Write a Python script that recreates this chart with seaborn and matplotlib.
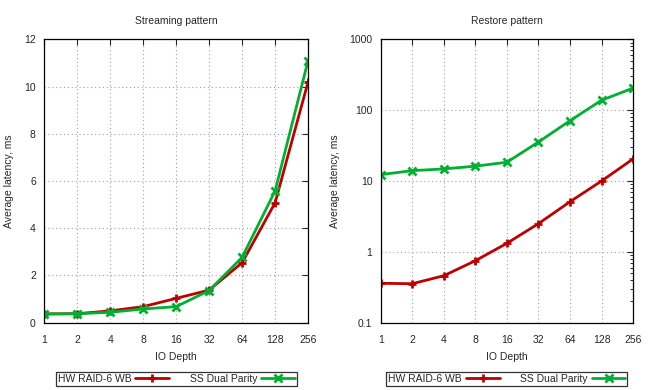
import matplotlib
matplotlib.use("Agg")
import matplotlib.pyplot as plt
import seaborn as sns
import pandas as pd
import numpy as np
from matplotlib.ticker import LogLocator, NullFormatter, FixedLocator

io_depth = ["1", "2", "4", "8", "16", "32", "64", "128", "256"]
stream_hw = [0.37, 0.38, 0.50, 0.68, 1.03, 1.38, 2.54, 5.08, 10.2]
stream_ss = [0.37, 0.38, 0.44, 0.58, 0.68, 1.36, 2.77, 5.58, 11.1]
restore_hw = [0.36, 0.355, 0.46, 0.75, 1.32, 2.5, 5.1, 10.0, 20.5]
restore_ss = [12.3, 14.0, 14.8, 16.2, 18.4, 35.5, 71, 138, 205]
series_names = ["HW RAID-6 WB", "SS Dual Parity"]

sns.set_style("white")
plt.rcParams["font.family"] = ["Liberation Sans", "DejaVu Sans"]

RED = "#c00000"
GREEN = "#00b030"
palette = {series_names[0]: RED, series_names[1]: GREEN}

def make_df(a, b):
    pos = list(range(len(io_depth)))
    return pd.DataFrame({
        "pos": pos + pos,
        "val": list(a) + list(b),
        "series": [series_names[0]] * len(a) + [series_names[1]] * len(b),
    })

fig = plt.figure(figsize=(6.5, 3.9), dpi=100)
ax1 = fig.add_axes([0.068, 0.1726, 0.406, 0.7266])
ax2 = fig.add_axes([0.5857, 0.1726, 0.3883, 0.7266])

FS = 7.5

def draw(ax, df, title, logy):
    for name, mk in (("HW RAID-6 WB", "+"), ("SS Dual Parity", "x")):
        sub = df[df["series"] == name]
        sns.lineplot(data=sub, x="pos", y="val", ax=ax, color=palette[name],
                     linewidth=2.0, marker=mk, markersize=6, markeredgewidth=2.0,
                     markeredgecolor=palette[name], label=name, legend=False)
    ax.set_xlim(0, len(io_depth) - 1)
    ax.set_xticks(range(len(io_depth)))
    ax.set_xticklabels(io_depth)
    ax.set_title(title, fontsize=FS, pad=11)
    ax.set_xlabel("IO Depth", fontsize=FS, labelpad=5)
    ax.set_ylabel("Average latency, ms", fontsize=FS, labelpad=7)
    ax.tick_params(axis="both", which="both", direction="in", top=True, right=True,
                   labelsize=FS)
    ax.tick_params(axis="x", pad=9)
    ax.tick_params(axis="y", pad=6)
    ax.tick_params(which="major", length=4, width=0.8)
    ax.tick_params(which="minor", length=2.5, width=0.7)
    if logy:
        ax.set_yscale("log")
        ax.set_ylim(0.1, 1000)
        ax.yaxis.set_major_locator(FixedLocator([0.1, 1, 10, 100, 1000]))
        ax.set_yticklabels(["0.1", "1", "10", "100", "1000"])
        ax.yaxis.set_minor_locator(LogLocator(base=10, subs=np.arange(2, 10)))
        ax.yaxis.set_minor_formatter(NullFormatter())
    else:
        ax.set_ylim(0, 12)
        ax.set_yticks(range(0, 13, 2))
    ax.grid(True, which="major", linestyle=(0, (1, 2.5)), color="#a0a0a0", linewidth=0.8)
    for s in ax.spines.values():
        s.set_color("black")
        s.set_linewidth(0.9)
    leg = ax.legend(loc="upper center", bbox_to_anchor=(0.5, -0.173), ncol=2,
                    frameon=True, fancybox=False, markerfirst=False, fontsize=7.5,
                    handlelength=3.2, columnspacing=2.0, borderpad=0.2,
                    handletextpad=0.4, borderaxespad=0)
    leg.get_frame().set_edgecolor("black")
    leg.get_frame().set_linewidth(0.9)

draw(ax1, make_df(stream_hw, stream_ss), "Streaming pattern", False)
draw(ax2, make_df(restore_hw, restore_ss), "Restore pattern", True)

fig.savefig("out.png", dpi=100, facecolor="white")
